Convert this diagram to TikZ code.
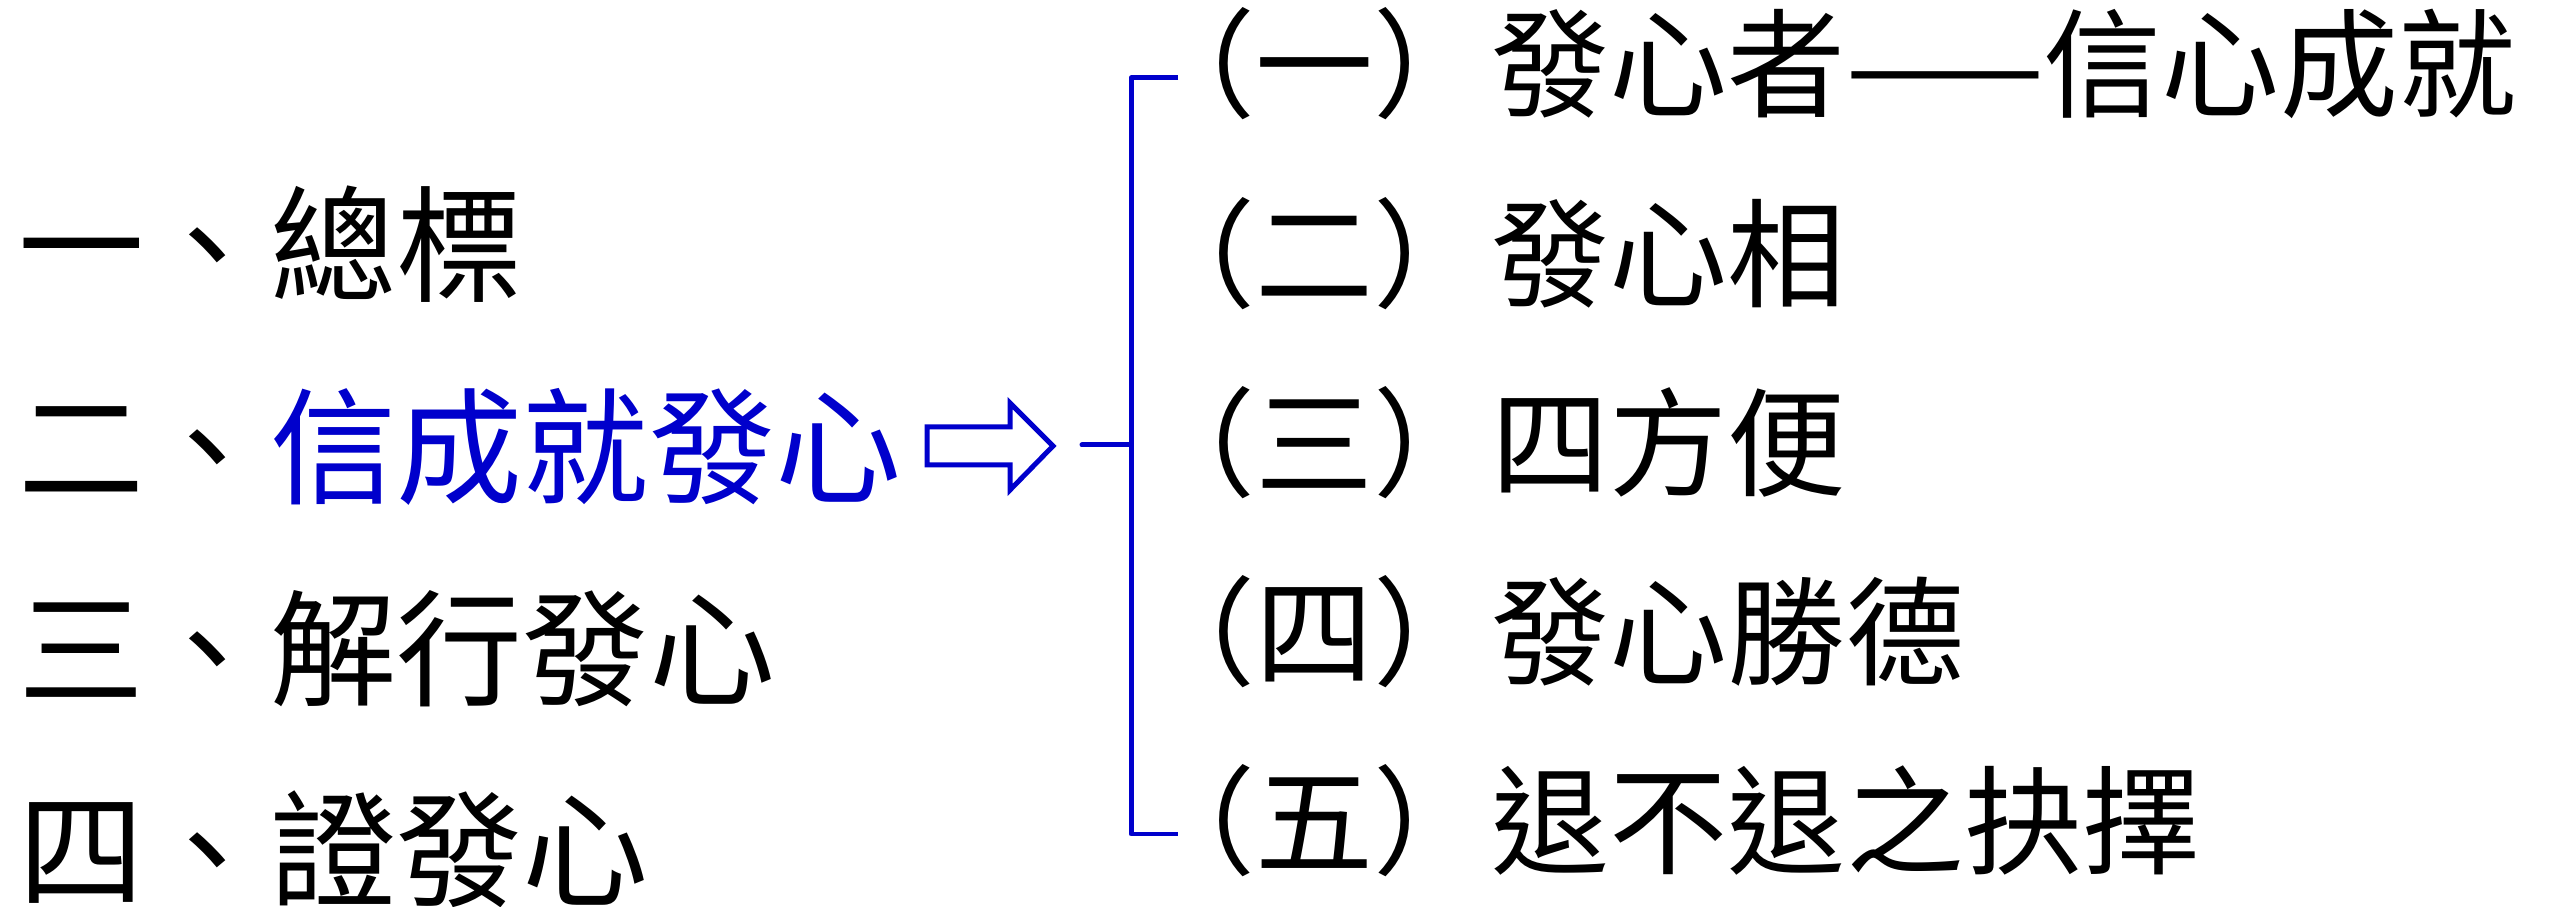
\documentclass[tikz,border=0pt]{standalone}
\usepackage{fontspec}
\newfontfamily\tcfont{Noto Sans CJK TC}
\definecolor{bblue}{RGB}{0,0,204}
\begin{document}
\begin{tikzpicture}[x=0.01cm,y=-0.01cm,
  lefttxt/.style={anchor=base west,inner sep=0pt,font=\tcfont\fontsize{35.85pt}{36pt}\selectfont},
  righttxt/.style={anchor=base west,inner sep=0pt,font=\tcfont\fontsize{33.57pt}{34pt}\selectfont},
  blueline/.style={draw=bblue,line width=1.42pt,line join=round},
  blockarrow/.style={draw=bblue,fill=white,line width=1.42pt,line join=miter}]
\fill[white] (0,0) rectangle (2554,907);
\useasboundingbox (0,0) rectangle (2554,907);
% left column
\node[lefttxt] (L1) at (18,293) {一、總標};
\node[lefttxt] (L2) at (18,495) {二、\textcolor{bblue}{信成就發心}};
\node[lefttxt] (L3) at (18,697) {三、解行發心};
\node[lefttxt] (L4) at (18,897) {四、證發心};
% right column
\node[righttxt] (R1) at (1137,109) {（一）發心者——信心成就};
\node[righttxt] (R2) at (1137,299) {（二）發心相};
\node[righttxt] (R3) at (1137,488) {（三）四方便};
\node[righttxt] (R4) at (1137,677) {（四）發心勝德};
\node[righttxt] (R5) at (1137,866) {（五）退不退之抉擇};
% block arrow
\draw[blockarrow] (927,427) -- (1010,427) -- (1010,403) -- (1053,446)
  -- (1010,490) -- (1010,465) -- (927,465) -- cycle;
% bracket
\coordinate (jin) at (1082,445);
\coordinate (jmid) at (1131,445);
\coordinate (btop) at (1178,78);
\coordinate (bbot) at (1178,834);
\draw[blueline,line cap=round] (jin) -- (jmid);
\draw[blueline] (btop) -- (1131,78) -- (1131,834) -- (bbot);
\end{tikzpicture}
\end{document}
